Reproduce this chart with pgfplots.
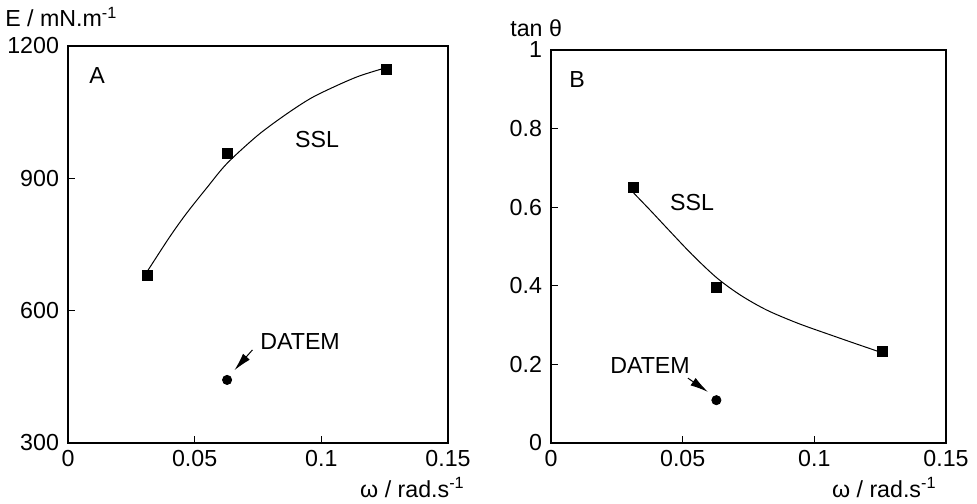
\documentclass[border=0pt]{standalone}
\usepackage{pgfplots}
\pgfplotsset{compat=1.18}
\usepackage{fontspec}
\setmainfont{Liberation Sans}
\usetikzlibrary{arrows.meta}
\begin{document}
\begin{tikzpicture}[font=\fontsize{11.6}{13.9}\selectfont]
\path[use as bounding box] (-34pt,-30pt) rectangle (454.5pt,221.5pt);
\pgfplotsset{
  myax/.style={
    scale only axis, clip=false,
    axis line style={line width=0.6pt},
    tick style={line width=0.6pt, black},
    major tick length=3.5pt,
    tick align=inside, tick pos=left,
    /pgf/number format/assume math mode=true,
    yticklabel style={xshift=-1pt},
    xmin=0, xmax=0.15,
    xtick={0,0.05,0.1,0.15},
    xticklabels={0,0.05,0.1,0.15},
  }
}
% Panel A
\begin{axis}[myax, at={(0,0)}, anchor=south west,
  width=190pt, height=198.5pt,
  ymin=300, ymax=1200, ytick={300,600,900,1200},
  yticklabels={300,600,900,1200}]
\addplot[black, line width=0.5pt, smooth, tension=0.5] coordinates {
 (0.0314,690) (0.040,766) (0.0467,820) (0.055,880) (0.0628,934) (0.075,998)
 (0.0863,1046) (0.096,1082) (0.106,1110) (0.115,1132) (0.125,1150)};
\addplot[only marks, mark=square*, mark size=2.5pt, black] coordinates {
 (0.0314,681) (0.0628,957) (0.1257,1148)};
\addplot[only marks, mark=*, mark size=2.3pt, black] coordinates {(0.0628,443)};
\node at (axis cs:0.0115,1134) {A};
\node at (axis cs:0.0983,987) {SSL};
\node at (axis cs:0.0916,529) {DATEM};
\draw[-{Latex[length=9pt,width=4.5pt]}, line width=0.5pt] (axis cs:0.0728,511) -- (axis cs:0.0657,465);
\node[anchor=west, inner sep=0pt] at (rel axis cs:-0.166,1.073) {E / mN.m\textsuperscript{-1}};
\node[anchor=east, inner sep=0pt] at (rel axis cs:1.045,-0.112) {ω / rad.s\textsuperscript{-1}};
\end{axis}
% Panel B
\begin{axis}[myax, at={(241.5pt,0)}, anchor=south west,
  width=197.5pt, height=196.5pt,
  ymin=0, ymax=1, ytick={0,0.2,0.4,0.6,0.8,1},
  yticklabels={0,0.2,0.4,0.6,0.8,1}]
\addplot[black, line width=0.5pt, smooth, tension=0.5] coordinates {
 (0.0314,0.636) (0.038,0.59) (0.044,0.547) (0.0535,0.48) (0.063,0.42) (0.072,0.376)
 (0.082,0.338) (0.094,0.304) (0.107,0.273) (0.116,0.252) (0.126,0.229)};
\addplot[only marks, mark=square*, mark size=2.5pt, black] coordinates {
 (0.0314,0.651) (0.0628,0.397) (0.1257,0.234)};
\addplot[only marks, mark=*, mark size=2.3pt, black] coordinates {(0.0628,0.109)};
\node at (axis cs:0.0099,0.924) {B};
\node at (axis cs:0.0536,0.613) {SSL};
\node at (axis cs:0.0376,0.198) {DATEM};
\draw[-{Latex[length=9pt,width=4.5pt]}, line width=0.5pt] (axis cs:0.052,0.165) -- (axis cs:0.0596,0.13);
\node[anchor=west, inner sep=0pt] at (rel axis cs:-0.104,1.056) {tan θ};
\node[anchor=east, inner sep=0pt] at (rel axis cs:0.977,-0.113) {ω / rad.s\textsuperscript{-1}};
\end{axis}
\end{tikzpicture}
\end{document}
